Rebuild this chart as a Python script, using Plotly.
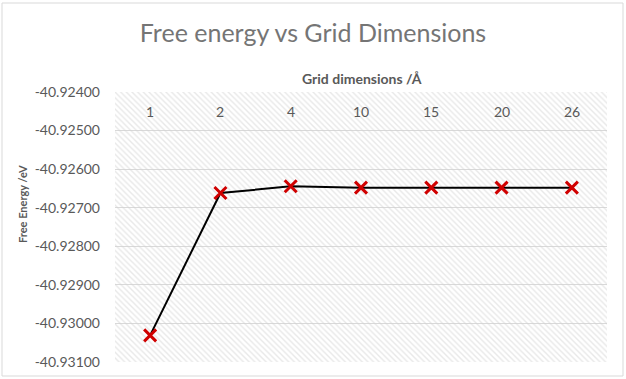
import plotly.graph_objects as go

# ---- data ----
grid_dims = ["1", "2", "4", "10", "15", "20", "26"]
free_energy = [-40.93031, -40.92662, -40.926445, -40.92648, -40.92648, -40.92648, -40.92648]
y_tick_vals = [-40.924, -40.925, -40.926, -40.927, -40.928, -40.929, -40.930, -40.931]
y_tick_text = ["-40.92400", "-40.92500", "-40.92600", "-40.92700",
               "-40.92800", "-40.92900", "-40.93000", "-40.93100"]

y_min, y_max = min(y_tick_vals), max(y_tick_vals)

FONT = "Lato, Calibri, Carlito, sans-serif"
GRAY = "#595959"

fig = go.Figure()

# hatched plot-area background
fig.add_trace(go.Bar(
    x=grid_dims,
    y=[y_max - y_min] * len(grid_dims),
    base=[y_min] * len(grid_dims),
    width=1,
    marker=dict(color="rgba(0,0,0,0)", line=dict(width=0),
                pattern=dict(shape="\\", fgcolor="#d2d2d2",
                             bgcolor="rgba(0,0,0,0)", size=4, solidity=0.35)),
    hoverinfo="skip", showlegend=False,
))

fig.add_trace(go.Scatter(
    x=grid_dims, y=free_energy, mode="lines+markers",
    line=dict(color="black", width=2),
    marker=dict(symbol="x-thin-open", size=12, color="#d00000",
                line=dict(color="#d00000", width=3)),
    showlegend=False,
))

W, H = 626, 379
ml, mr, mt, mb = 115, 19, 92, 17
pw, ph = W - ml - mr, H - mt - mb

def px_x(p):
    return (p - ml) / pw

def px_y(p):
    return (H - mb - p) / ph

annotations = [
    dict(text="<b>Grid dimensions /Å</b>", xref="paper", yref="paper",
         x=px_x(362), y=px_y(78), showarrow=False, xanchor="center", yanchor="middle",
         font=dict(size=14, color=GRAY, family=FONT)),
    dict(text="<b>Free Energy /eV</b>", xref="paper", yref="paper",
         x=px_x(22), y=px_y(204), showarrow=False, textangle=-90,
         xanchor="center", yanchor="middle",
         font=dict(size=11, color=GRAY, family=FONT)),
]
# category labels drawn inside the top of the plot area
for i, g in enumerate(grid_dims):
    annotations.append(dict(text=g, xref="x", yref="paper", x=i, y=px_y(111),
                            showarrow=False, xanchor="center", yanchor="middle",
                            font=dict(size=14, color=GRAY, family=FONT)))

fig.update_layout(
    width=W, height=H,
    margin=dict(l=ml, r=mr, t=mt, b=mb, autoexpand=False),
    paper_bgcolor="white", plot_bgcolor="white",
    bargap=0,
    font=dict(family=FONT, color=GRAY),
    title=dict(text="Free energy vs Grid Dimensions", x=0.5, xanchor="center",
               y=1 - 33 / H, yanchor="middle",
               font=dict(family=FONT, size=25, color="#757575")),
    xaxis=dict(type="category", range=[-0.5, len(grid_dims) - 0.5],
               showgrid=False, showline=False, zeroline=False,
               ticks="", showticklabels=False, automargin=False),
    yaxis=dict(range=[y_min, y_max], tickvals=y_tick_vals, ticktext=y_tick_text,
               showgrid=True, gridcolor="#d9d9d9", gridwidth=1,
               zeroline=False, showline=False, ticks="", ticklabelstandoff=14,
               automargin=False, tickfont=dict(size=14, color=GRAY)),
    shapes=[dict(type="rect", xref="paper", yref="paper",
                 x0=px_x(2), x1=px_x(623), y0=px_y(376), y1=px_y(3),
                 line=dict(color="#d9d9d9", width=1), fillcolor="rgba(0,0,0,0)",
                 layer="below")],
    annotations=annotations,
)

fig.write_html("out.html", config={"displayModeBar": False},
               post_script="document.body.style.margin='0';document.body.style.overflow='hidden';")
